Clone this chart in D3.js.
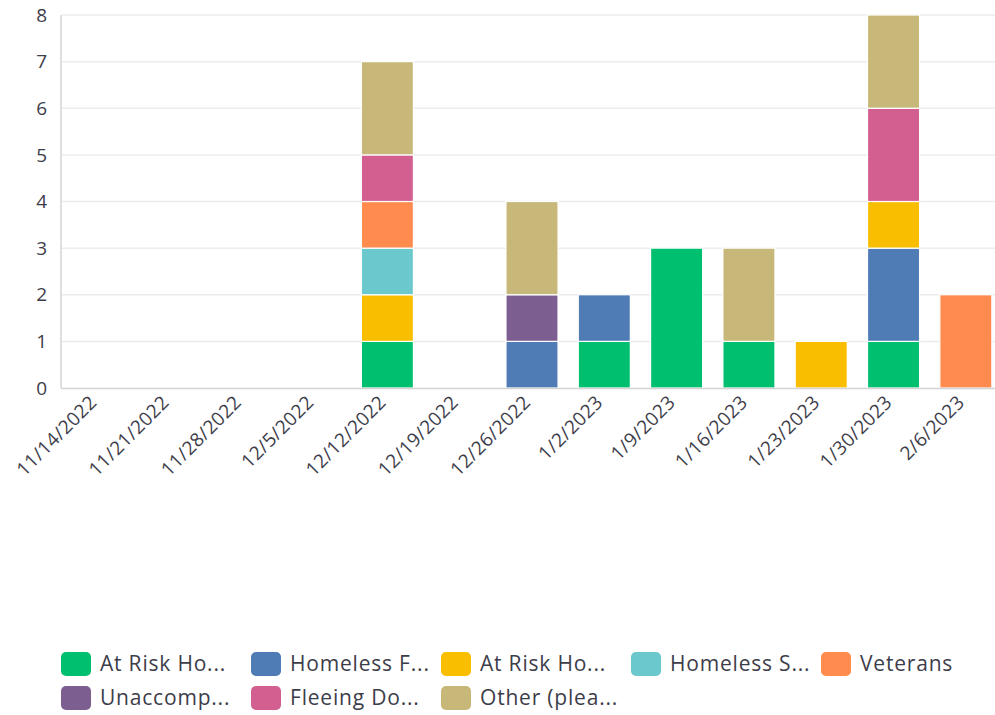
<!DOCTYPE html>
<html>
<head>
<meta charset="utf-8">
<script src="https://cdn.jsdelivr.net/npm/d3@7"></script>
<style>
  html, body { margin: 0; padding: 0; background: #fff; }
  svg { display: block; font-family: "Open Sans", "Noto Sans", sans-serif; }
</style>
</head>
<body>
<svg id="chart" width="995" height="715"></svg>
<script>
// Weekly categories on the x axis
const weeks = ["11/14/2022", "11/21/2022", "11/28/2022", "12/5/2022", "12/12/2022", "12/19/2022",
  "12/26/2022", "1/2/2023", "1/9/2023", "1/16/2023", "1/23/2023", "1/30/2023", "2/6/2023"];

// Series, stacked bottom to top (legend labels as shown, truncated)
const seriesNames = ["At Risk Ho...", "Homeless F...", "At Risk Ho...", "Homeless S...", "Veterans",
  "Unaccomp...", "Fleeing Do...", "Other (plea..."];
const seriesColors = ["#00bf6f", "#507cb6", "#f9be00", "#6bc8cd", "#ff8b4f", "#7d5e90", "#d25f90", "#c7b879"];

// Counts per week for each series
const atRiskA    = [0, 0, 0, 0, 1, 0, 0, 1, 3, 1, 0, 1, 0];
const homelessF  = [0, 0, 0, 0, 0, 0, 1, 1, 0, 0, 0, 2, 0];
const atRiskB    = [0, 0, 0, 0, 1, 0, 0, 0, 0, 0, 1, 1, 0];
const homelessS  = [0, 0, 0, 0, 1, 0, 0, 0, 0, 0, 0, 0, 0];
const veterans   = [0, 0, 0, 0, 1, 0, 0, 0, 0, 0, 0, 0, 2];
const unaccomp   = [0, 0, 0, 0, 0, 0, 1, 0, 0, 0, 0, 0, 0];
const fleeing    = [0, 0, 0, 0, 1, 0, 0, 0, 0, 0, 0, 2, 0];
const other      = [0, 0, 0, 0, 2, 0, 2, 0, 0, 2, 0, 2, 0];

const seriesValues = [atRiskA, homelessF, atRiskB, homelessS, veterans, unaccomp, fleeing, other];
const yTicks = [0, 1, 2, 3, 4, 5, 6, 7, 8];

const svg = d3.select("#chart");
const margin = { left: 62, right: -7, top: 15, bottom: 327 };
const W = 995, H = 715;

const x = d3.scaleBand().domain(weeks)
  .range([margin.left, W - margin.right]).paddingInner(0.28).paddingOuter(0.14);
const y = d3.scaleLinear().domain([0, 8]).range([H - margin.bottom, margin.top]);

// Rows for the stack
const rows = weeks.map((w, i) => {
  const r = { week: w };
  seriesValues.forEach((vals, s) => { r["s" + s] = vals[i]; });
  return r;
});
const keys = seriesValues.map((_, s) => "s" + s);
const stacked = d3.stack().keys(keys)(rows);

// Gridlines
svg.append("g")
  .selectAll("line")
  .data(yTicks.filter(t => t > 0))
  .join("line")
  .attr("x1", margin.left).attr("x2", W)
  .attr("y1", d => y(d)).attr("y2", d => y(d))
  .attr("stroke", "#ececec").attr("stroke-width", 1.5);

// Bars
svg.append("g")
  .selectAll("g")
  .data(stacked)
  .join("g")
  .attr("fill", (d, i) => seriesColors[i])
  .selectAll("rect")
  .data(d => d.filter(p => p[1] - p[0] > 0))
  .join("rect")
  .attr("x", d => x(d.data.week))
  .attr("width", x.bandwidth())
  .attr("y", d => y(d[1]))
  .attr("height", d => y(d[0]) - y(d[1]))
  .attr("stroke", "#fff").attr("stroke-width", 1.2);

// Axis lines
svg.append("line")
  .attr("x1", margin.left - 1).attr("x2", margin.left - 1)
  .attr("y1", margin.top).attr("y2", y(0))
  .attr("stroke", "#d4d4d4").attr("stroke-width", 1.5);
svg.append("line")
  .attr("x1", margin.left - 1).attr("x2", W)
  .attr("y1", y(0) + 0.5).attr("y2", y(0) + 0.5)
  .attr("stroke", "#d4d4d4").attr("stroke-width", 1.5);

// Y tick labels
svg.append("g")
  .selectAll("text")
  .data(yTicks)
  .join("text")
  .attr("x", 47).attr("y", d => y(d))
  .attr("dy", "0.35em")
  .attr("text-anchor", "end")
  .attr("font-size", 19)
  .attr("fill", "#3d3d4a")
  .text(d => d);

// X tick labels, rotated
svg.append("g")
  .selectAll("text")
  .data(weeks)
  .join("text")
  .attr("transform", d => `translate(${x(d) + x.bandwidth() / 2 - 5},${y(0) + 11}) rotate(-45)`)
  .attr("text-anchor", "end")
  .attr("dy", "0.35em")
  .attr("font-size", 19)
  .attr("letter-spacing", 0.3)
  .attr("fill", "#3d3d4a")
  .text(d => d);

// Legend
const legend = svg.append("g");
const colW = 190, rowH = 34;
const items = legend.selectAll("g")
  .data(seriesNames)
  .join("g")
  .attr("transform", (d, i) => `translate(${61 + (i % 5) * colW},${652 + Math.floor(i / 5) * rowH})`);
items.append("rect")
  .attr("width", 30).attr("height", 24).attr("rx", 5)
  .attr("fill", (d, i) => seriesColors[i]);
items.append("text")
  .attr("x", 39).attr("y", 12).attr("dy", "0.35em")
  .attr("font-size", 21)
  .attr("letter-spacing", 0.8)
  .attr("fill", "#3d3d4a")
  .text(d => d);
</script>
</body>
</html>
